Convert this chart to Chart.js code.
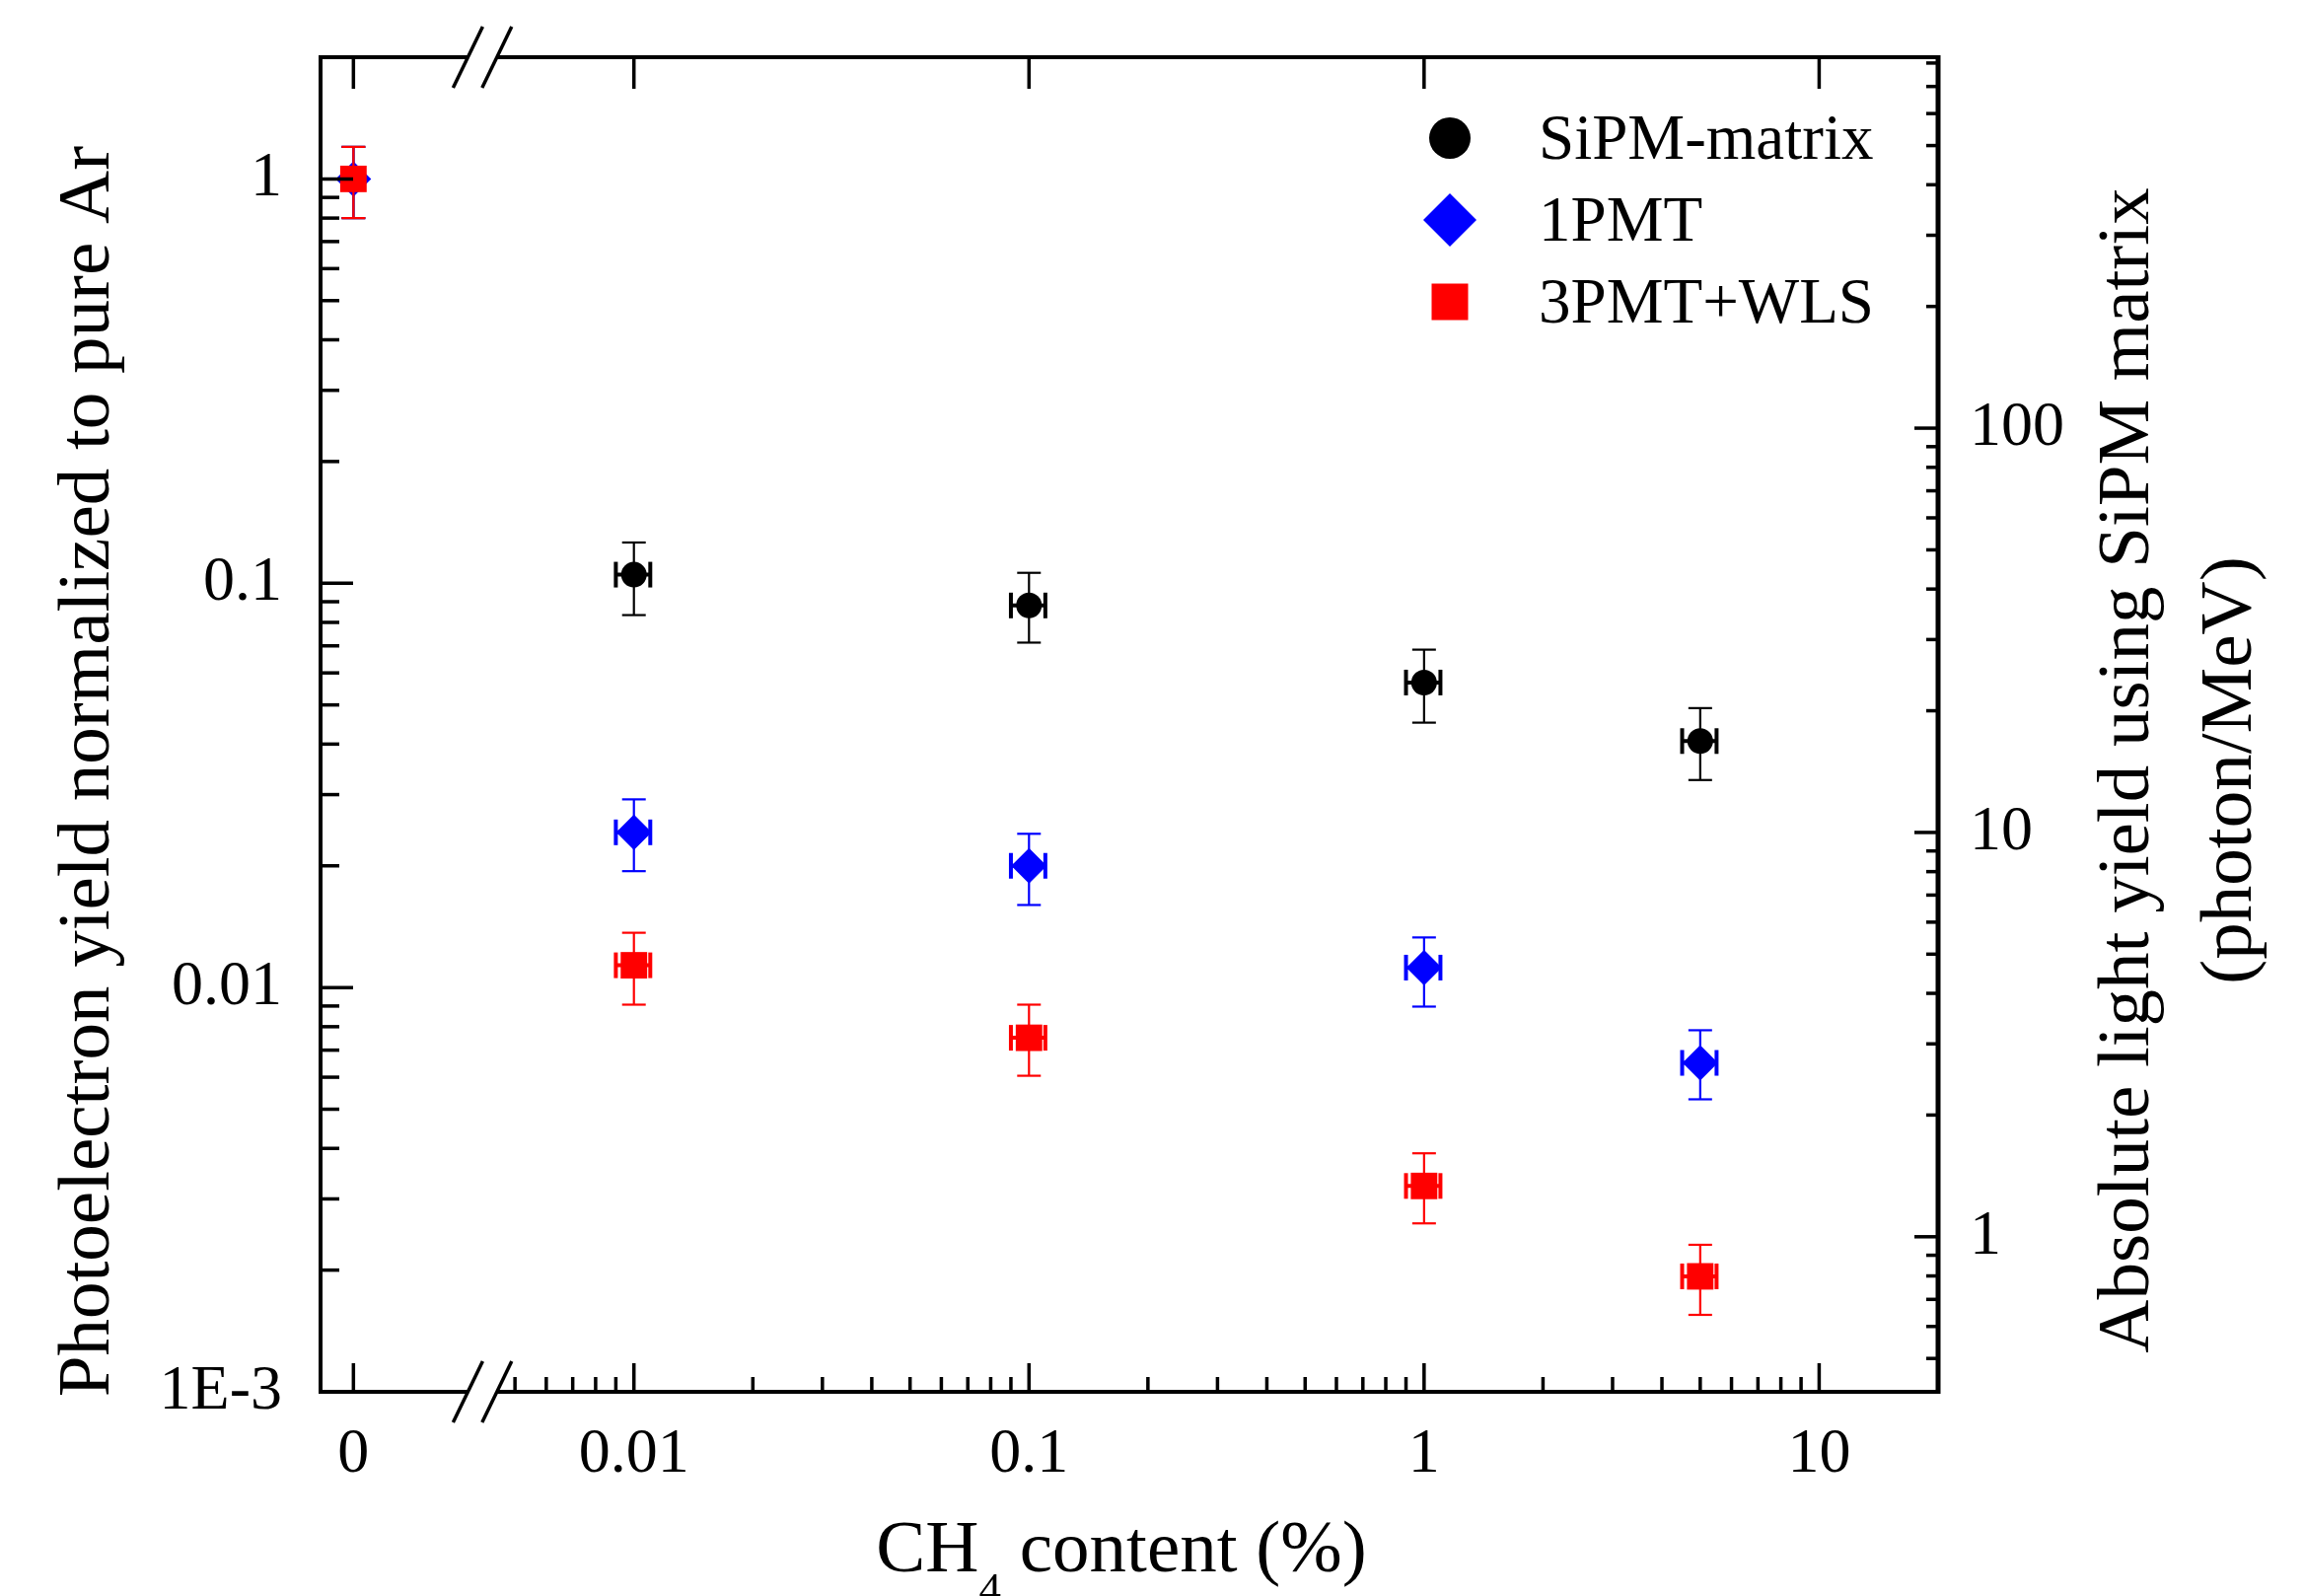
<!DOCTYPE html>
<html>
<head>
<meta charset="utf-8">
<script src="https://cdn.jsdelivr.net/npm/chart.js@4.4.1/dist/chart.umd.min.js"></script>
<style>
  html, body { margin: 0; padding: 0; background: #fff; }
  #wrap { width: 2336px; height: 1618px; position: relative; }
</style>
</head>
<body>
<div id="wrap"><canvas id="mycanvas"></canvas></div>
<script>
// CH4 content (%), 0 = pure Ar
var ch4   = [0, 0.01, 0.1, 1, 5];
var ch4Lo = [null, 0.009, 0.09, 0.9, 4.5];
var ch4Hi = [null, 0.011, 0.11, 1.1, 5.5];

// photoelectron yield normalized to pure Ar
var sipm   = [1, 0.105, 0.0881, 0.0568, 0.0407];
var sipmLo = [0.8, 0.0834, 0.0713, 0.0452, 0.0326];
var sipmHi = [1.2, 0.1261, 0.1061, 0.0685, 0.0491];

var pmt1   = [1, 0.0242, 0.0200, 0.0112, 0.00651];
var pmt1Lo = [0.8, 0.0194, 0.0160, 0.00897, 0.00529];
var pmt1Hi = [1.2, 0.0292, 0.0240, 0.0133, 0.00784];

var pmt3   = [1, 0.01135, 0.00751, 0.00323, 0.00193];
var pmt3Lo = [0.8, 0.00907, 0.00605, 0.00261, 0.00155];
var pmt3Hi = [1.2, 0.01366, 0.00907, 0.00389, 0.00231];

var xTicks = [0, 0.01, 0.1, 1, 10];
var xTickLabels = ['0', '0.01', '0.1', '1', '10'];
var yTicks = [0.001, 0.01, 0.1, 1];
var yTickLabels = ['1E-3', '0.01', '0.1', '1'];
var y2Ticks = [1, 10, 100];
var y2TickLabels = ['1', '10', '100'];

// photon/MeV of pure Ar with the SiPM matrix (links right axis to left)
var pureArYield = 413.5;

// broken x axis: where "0" sits, and the gap
var zeroAt = 0.00195;
var breakFrom = 0.0038, breakTo = 0.0045;

var serif = '"Liberation Serif", "Times New Roman", serif';

function xPos(v) { return v === 0 ? zeroAt : v; }
function pts(ys) {
	return ch4.map(function(c, i) { return { x: xPos(c), y: ys[i] }; });
}
function line(ctx, x1, y1, x2, y2) {
	ctx.beginPath(); ctx.moveTo(x1, y1); ctx.lineTo(x2, y2); ctx.stroke();
}

var errorBars = {
	id: 'errorBars',
	beforeDatasetDraw: function(chart, args) {
		var ds = chart.data.datasets[args.index];
		var xs = chart.scales.x, ys = chart.scales.y, ctx = chart.ctx;
		ctx.save();
		ctx.strokeStyle = ds.borderColor;
		for (var i = 0; i < ch4.length; i++) {
			var px = xs.getPixelForValue(xPos(ch4[i]));
			var py = ys.getPixelForValue(ds.data[i].y);
			var top = ys.getPixelForValue(ds.hi[i]);
			var bot = ys.getPixelForValue(ds.lo[i]);
			ctx.lineWidth = 2.2;
			line(ctx, px, top, px, bot);
			line(ctx, px - 12, top, px + 12, top);
			line(ctx, px - 12, bot, px + 12, bot);
			if (ch4Lo[i] !== null) {
				var l = xs.getPixelForValue(ch4Lo[i]), r = xs.getPixelForValue(ch4Hi[i]);
				ctx.lineWidth = 4;
				line(ctx, l, py, r, py);
				line(ctx, l, py - 13, l, py + 13);
				line(ctx, r, py - 13, r, py + 13);
			}
		}
		ctx.restore();
	}
};

var frame = {
	id: 'frame',
	afterDraw: function(chart) {
		var a = chart.chartArea, ctx = chart.ctx;
		var xs = chart.scales.x, ys = chart.scales.y, y2 = chart.scales.y2;
		var b1 = xs.getPixelForValue(breakFrom), b2 = xs.getPixelForValue(breakTo);
		var k, p;
		ctx.save();
		ctx.strokeStyle = '#000';
		ctx.lineCap = 'butt';

		// frame with the axis break on top and bottom
		[a.top, a.bottom].forEach(function(y) {
			ctx.lineWidth = 4;
			line(ctx, a.left - 2, y, b1, y);
			line(ctx, b2, y, a.right, y);
			ctx.lineWidth = 3.5;
			line(ctx, b1 - 15, y + 31, b1 + 15, y - 31);
			line(ctx, b2 - 15, y + 31, b2 + 15, y - 31);
		});
		ctx.lineWidth = 4;
		line(ctx, a.left, a.top - 2, a.left, a.bottom + 2);
		ctx.lineWidth = 5;
		line(ctx, a.right, a.top - 2, a.right, a.bottom + 2);

		ctx.lineWidth = 3.5;
		// x ticks (inward)
		xTicks.forEach(function(v) {
			p = xs.getPixelForValue(xPos(v));
			line(ctx, p, a.bottom, p, a.bottom - 29);
			line(ctx, p, a.top, p, a.top + 32);
		});
		var xMinor = [0.005, 0.006, 0.007, 0.008, 0.009];
		[0.01, 0.1, 1].forEach(function(d) {
			for (k = 2; k <= 9; k++) xMinor.push(k * d);
		});
		xMinor.forEach(function(v) {
			p = xs.getPixelForValue(v);
			line(ctx, p, a.bottom, p, a.bottom - 15);
		});

		// left y ticks
		yTicks.forEach(function(v) {
			p = ys.getPixelForValue(v);
			line(ctx, a.left, p, a.left + 33, p);
		});
		[0.001, 0.01, 0.1].forEach(function(d) {
			for (k = 2; k <= 9; k++) {
				p = ys.getPixelForValue(k * d);
				line(ctx, a.left, p, a.left + 19, p);
			}
		});

		// right y ticks
		y2Ticks.forEach(function(v) {
			p = y2.getPixelForValue(v);
			line(ctx, a.right, p, a.right - 24, p);
		});
		var y2Minor = [0.5, 0.6, 0.7, 0.8, 0.9];
		[1, 10, 100].forEach(function(d) {
			for (k = 2; k <= 9; k++) y2Minor.push(k * d);
		});
		y2Minor.forEach(function(v) {
			if (v > y2.max) return;
			p = y2.getPixelForValue(v);
			line(ctx, a.right, p, a.right - 12, p);
		});
		ctx.restore();
	}
};

var texts = {
	id: 'texts',
	afterDraw: function(chart) {
		var ctx = chart.ctx;
		ctx.save();
		ctx.fillStyle = '#000';

		// legend
		var legendY = [140, 223, 306];
		chart.data.datasets.forEach(function(ds, i) {
			var x = 1470, y = legendY[i];
			ctx.fillStyle = ds.backgroundColor;
			ctx.beginPath();
			if (ds.pointStyle === 'circle') {
				ctx.arc(x, y, 21, 0, Math.PI * 2);
			} else if (ds.pointStyle === 'rectRot') {
				ctx.moveTo(x, y - 27); ctx.lineTo(x + 27, y); ctx.lineTo(x, y + 27); ctx.lineTo(x - 27, y);
				ctx.closePath();
			} else {
				ctx.rect(x - 18.5, y - 18.5, 37, 37);
			}
			ctx.fill();
			ctx.fillStyle = '#000';
			ctx.font = '65px ' + serif;
			ctx.textAlign = 'left';
			ctx.textBaseline = 'alphabetic';
			ctx.fillText(ds.label, 1560, y + 21);
		});

		// x title with subscript
		var big = '75px ' + serif, small = '45px ' + serif;
		ctx.font = big;
		var w1 = ctx.measureText('CH').width, w3 = ctx.measureText(' content (%)').width;
		ctx.font = small;
		var w2 = ctx.measureText('4').width;
		var x0 = 1137 - (w1 + w2 + w3) / 2;
		ctx.font = big;
		ctx.fillText('CH', x0, 1593);
		ctx.font = small;
		ctx.fillText('4', x0 + w1, 1625);
		ctx.font = big;
		ctx.fillText(' content (%)', x0 + w1 + w2, 1593);

		// rotated y titles
		ctx.textAlign = 'center';
		function vtext(s, x, y) {
			ctx.save();
			ctx.translate(x, y);
			ctx.rotate(-Math.PI / 2);
			ctx.font = big;
			ctx.fillText(s, 0, 0);
			ctx.restore();
		}
		vtext('Photoelectron yield normalized to pure Ar', 110, 782);
		vtext('Absolute light yield using SiPM matrix', 2178, 781);
		vtext('(photon/MeV)', 2282, 781);
		ctx.restore();
	}
};

Chart.defaults.font.family = serif;
Chart.defaults.color = '#000';

var ctx = document.getElementById('mycanvas');
var chart = new Chart(ctx, {
	type: 'scatter',
	data: {
		datasets: [
			{
				label: 'SiPM-matrix',
				data: pts(sipm), lo: sipmLo, hi: sipmHi,
				pointStyle: 'circle', pointRadius: 13,
				backgroundColor: '#000000', borderColor: '#000000', borderWidth: 0,
				order: 3
			},
			{
				label: '1PMT',
				data: pts(pmt1), lo: pmt1Lo, hi: pmt1Hi,
				pointStyle: 'rectRot', pointRadius: 18,
				backgroundColor: '#0000ff', borderColor: '#0000ff', borderWidth: 0,
				order: 2
			},
			{
				label: '3PMT+WLS',
				data: pts(pmt3), lo: pmt3Lo, hi: pmt3Hi,
				pointStyle: 'rect', pointRadius: 19,
				backgroundColor: '#ff0000', borderColor: '#ff0000', borderWidth: 0,
				order: 1
			}
		]
	},
	options: {
		responsive: true,
		maintainAspectRatio: false,
		devicePixelRatio: 1,
		animation: false,
		events: [],
		layout: { padding: { top: 58, left: 0, right: 0, bottom: 0 } },
		plugins: { legend: { display: false }, tooltip: { enabled: false } },
		scales: {
			x: {
				type: 'logarithmic',
				position: 'bottom',
				min: 0.00161, max: 20,
				grid: { display: false, drawTicks: false },
				border: { display: false },
				afterBuildTicks: function(axis) {
					axis.ticks = xTicks.map(function(v) { return { value: xPos(v) }; });
				},
				afterFit: function(axis) {
					axis.height = 207;
					axis.paddingLeft = 0; axis.paddingRight = 0;
				},
				ticks: {
					autoSkip: false, maxRotation: 0, padding: 26,
					font: { size: 64 },
					callback: function(v, i) { return xTickLabels[i]; }
				}
			},
			y: {
				type: 'logarithmic',
				position: 'left',
				min: 0.001, max: 2,
				grid: { display: false, drawTicks: false },
				border: { display: false },
				afterBuildTicks: function(axis) {
					axis.ticks = yTicks.map(function(v) { return { value: v }; });
				},
				afterFit: function(axis) {
					axis.width = 325;
					axis.paddingTop = 0; axis.paddingBottom = 0;
				},
				ticks: {
					autoSkip: false, padding: 39,
					font: { size: 64 },
					callback: function(v, i) { return yTickLabels[i]; }
				}
			},
			y2: {
				type: 'logarithmic',
				position: 'right',
				min: 0.001 * pureArYield, max: 2 * pureArYield,
				grid: { display: false, drawTicks: false },
				border: { display: false },
				afterBuildTicks: function(axis) {
					axis.ticks = y2Ticks.map(function(v) { return { value: v }; });
				},
				afterFit: function(axis) {
					axis.width = 371;
					axis.paddingTop = 0; axis.paddingBottom = 0;
				},
				ticks: {
					autoSkip: false, padding: 32,
					font: { size: 64 },
					callback: function(v, i) { return y2TickLabels[i]; }
				}
			}
		}
	},
	plugins: [errorBars, frame, texts]
});
</script>
</body>
</html>
